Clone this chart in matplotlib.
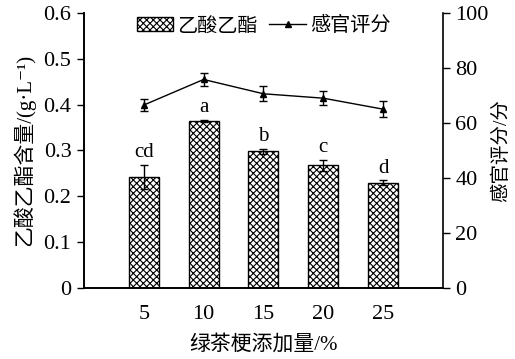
import numpy as np
import matplotlib
matplotlib.use("Agg")
import matplotlib.pyplot as plt
from matplotlib.lines import Line2D
from matplotlib.patches import Patch

plt.rcParams['font.family'] = ['Liberation Serif', 'Noto Sans CJK SC', 'DejaVu Serif']
plt.rcParams['hatch.linewidth'] = 0.8

# data
levels = ["5", "10", "15", "20", "25"]
ester = [0.242, 0.365, 0.298, 0.268, 0.230]
ester_err = [0.027, 0.002, 0.006, 0.012, 0.005]
letters = ["cd", "a", "b", "c", "d"]
score = [66.5, 75.8, 70.6, 69.0, 65.0]
score_err = [2.3, 2.5, 2.8, 2.5, 3.0]

x = np.arange(1, len(levels) + 1)

fig = plt.figure(figsize=(5.15, 3.59), dpi=100)
ax1 = fig.add_axes([0.163, 0.198, 0.697, 0.766])
ax2 = ax1.twinx()

ax1.bar(x, ester, width=0.5, color="white", edgecolor="black", hatch="xxxxx",
        linewidth=1.0, yerr=ester_err, capsize=3,
        error_kw=dict(elinewidth=1, capthick=1, ecolor="black"))
for xi, v, e, t in zip(x, ester, ester_err, letters):
    ax1.text(xi, v + e + 0.005, t, ha="center", va="bottom", fontsize=15)

ax2.errorbar(x, score, yerr=score_err, color="black", marker="^", markersize=5,
             linewidth=1, capsize=3, elinewidth=1, capthick=1)

ax1.set_xlim(0, 6)
ax1.set_ylim(0, 0.6)
ax2.set_ylim(0, 100)
ax1.set_xticks(x)
ax1.set_xticklabels(levels)
ax1.set_yticks(np.arange(0, 0.61, 0.1))
ax1.set_yticklabels(["0", "0.1", "0.2", "0.3", "0.4", "0.5", "0.6"])
ax2.set_yticks(np.arange(0, 101, 20))

ax1.tick_params(axis="x", length=0, labelsize=16, pad=12)
ax1.tick_params(axis="y", direction="out", length=5, width=1, labelsize=16, pad=4)
ax2.tick_params(axis="y", direction="out", length=5, width=1, labelsize=16, pad=4)

for ax in (ax1, ax2):
    ax.spines["top"].set_visible(False)
    for s in ("left", "right", "bottom"):
        ax.spines[s].set_linewidth(1.2)
ax1.spines["right"].set_visible(False)

ax1.set_xlabel("绿茶梗添加量/%", fontsize=15, labelpad=8)
ax1.set_ylabel("乙酸乙酯含量/(g·L⁻¹)", fontsize=15, labelpad=6)
ax2.set_ylabel("感官评分/分", fontsize=14, labelpad=2)

handles = [Patch(facecolor="white", edgecolor="black", hatch="xxxxx"),
           Line2D([0], [0], color="black", marker="^", markersize=5, linewidth=1)]
ax1.legend(handles, ["乙酸乙酯", "感官评分"], loc="upper center",
           bbox_to_anchor=(0.5, 1.05), ncol=2, frameon=False, fontsize=14.5,
           handlelength=1.8, handletextpad=0.2, columnspacing=0.6)

fig.savefig("out.png", dpi=100)
